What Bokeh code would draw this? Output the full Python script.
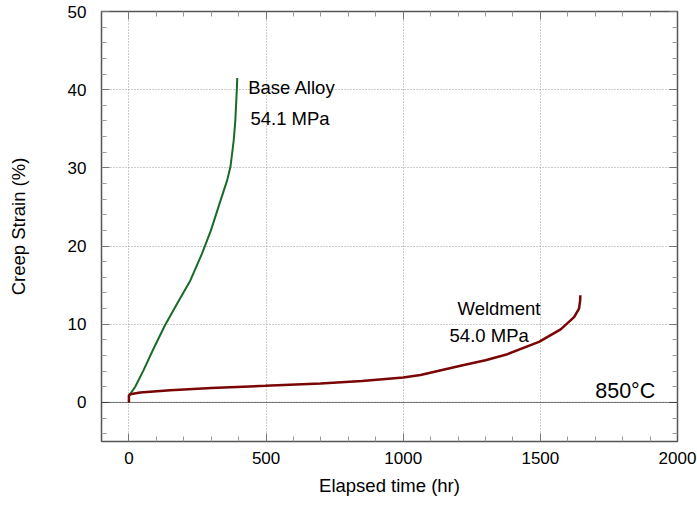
from bokeh.plotting import figure
from bokeh.models import Range1d, FixedTicker, LinearAxis, Span, Label
from bokeh.embed import file_html
from bokeh.resources import INLINE

base_t = [0, 5, 23, 53, 90, 132, 175, 224, 266, 299, 330, 358, 370, 382, 388, 392, 395]
base_s = [0.8, 1.1, 2.0, 4.1, 6.9, 9.9, 12.6, 15.6, 19.0, 22.0, 25.4, 28.4, 30.1, 33.5, 36.1, 39.0, 41.5]

weld_t = [0, 0, 5, 41, 151, 300, 497, 698, 850, 1000, 1063, 1209, 1300, 1380, 1495, 1574, 1623, 1641, 1645, 1646]
weld_s = [0, 0.9, 1.05, 1.28, 1.57, 1.85, 2.12, 2.42, 2.75, 3.19, 3.5, 4.68, 5.4, 6.17, 7.74, 9.35, 10.9, 12.0, 13.0, 13.7]

x_ticks = [0, 500, 1000, 1500, 2000]
x_minor = [v for v in range(-100, 2001, 100) if v not in x_ticks]
y_ticks = [0, 10, 20, 30, 40, 50]
y_minor = [v for v in range(-4, 50, 2) if v not in y_ticks]

FONT = "Liberation Sans"

p = figure(width=697, height=506, output_backend="svg", toolbar_location=None,
           x_range=Range1d(-100, 2000), y_range=Range1d(-5, 50),
           min_border_left=101, min_border_right=20, min_border_top=11, min_border_bottom=65,
           x_axis_label="Elapsed time (hr)", y_axis_label="Creep Strain (%)")
p.outline_line_color = "#555555"
p.outline_line_width = 1.5

bottom = p.below[0]
left = p.left[0]

xt = FixedTicker(ticks=x_ticks, minor_ticks=x_minor)
yt = FixedTicker(ticks=y_ticks, minor_ticks=y_minor)
bottom.ticker = xt
left.ticker = yt

top = LinearAxis(ticker=xt)
right = LinearAxis(ticker=yt)
p.add_layout(top, "above")
p.add_layout(right, "right")

for ax in [bottom, left, top, right]:
    ax.axis_line_color = "#555555"
    ax.major_tick_in = 8
    ax.major_tick_out = 0
    ax.minor_tick_in = 5
    ax.minor_tick_out = 0
    ax.major_tick_line_color = "#777777"
    ax.minor_tick_line_color = "#999999"
    ax.major_label_text_font = FONT
    ax.major_label_text_font_size = "17px"
    ax.major_label_text_color = "black"
    ax.axis_label_text_font = FONT
    ax.axis_label_text_font_size = "18.5px"
    ax.axis_label_text_font_style = "normal"
    ax.axis_label_text_color = "black"

for ax in [top, right]:
    ax.major_label_text_font_size = "0px"
    ax.major_label_text_color = None
    ax.major_label_standoff = 0

bottom.major_label_standoff = 10
left.major_label_standoff = 15
bottom.axis_label_standoff = 8
left.axis_label_standoff = 36

p.xgrid.ticker = xt
p.ygrid.ticker = yt
p.xgrid.grid_line_color = "#999999"
p.ygrid.grid_line_color = "#999999"
p.xgrid.grid_line_dash = "1 2"
p.ygrid.grid_line_dash = "1 2"

p.add_layout(Span(location=0, dimension="width", line_color="black", line_dash="1 1", line_width=1))

p.line(base_t, base_s, line_color="#176b24", line_width=2)
p.line(weld_t, weld_s, line_color="#7a0505", line_width=2.5)

labels = [
    (435, 40.3, "Base Alloy", "18.5px"),
    (443, 36.3, "54.1 MPa", "18.5px"),
    (1198, 12.0, "Weldment", "18.5px"),
    (1169, 8.5, "54.0 MPa", "18.5px"),
    (1700, 1.5, "850°C", "21.5px"),
]
for x, y, t, fs in labels:
    p.add_layout(Label(x=x, y=y, text=t, text_font=FONT, text_font_size=fs,
                       text_baseline="middle", text_align="left", text_color="black"))

open("out.html", "w").write(file_html(p, INLINE))
